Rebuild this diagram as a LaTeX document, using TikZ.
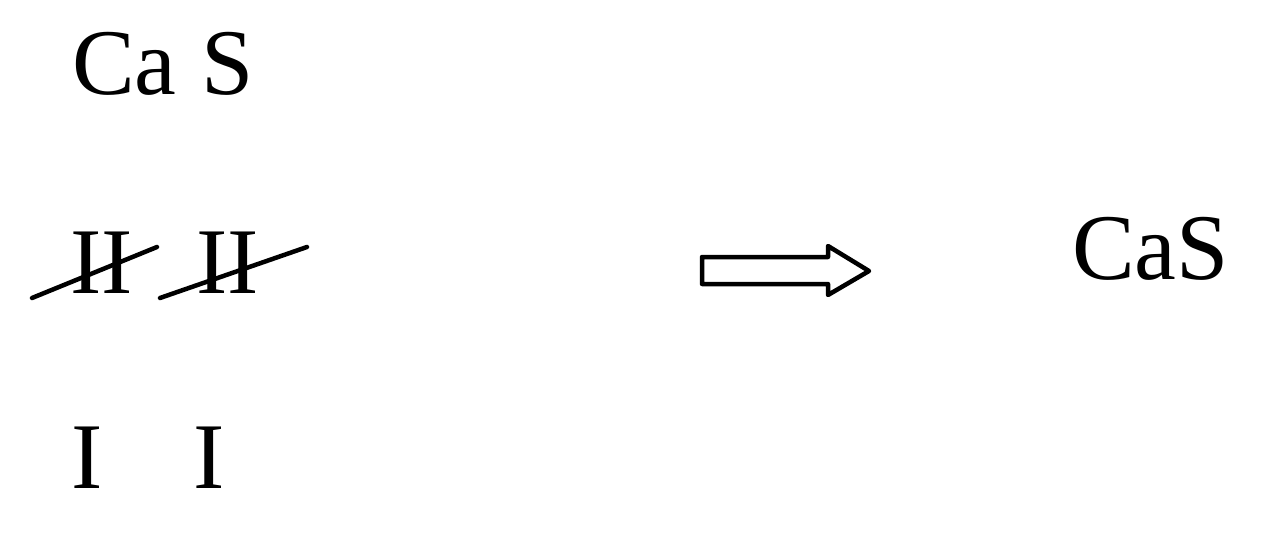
\documentclass[tikz,border=0pt]{standalone}
\usepackage{fontspec}
\setmainfont{Liberation Serif}
\usepackage{tikz}
\newcommand{\elemfont}{\fontsize{94}{112}\selectfont}

\begin{document}
\begin{tikzpicture}[x=1pt,y=-1pt,
  elem/.style={anchor=base west,inner sep=0pt,font=\elemfont},
  strike/.style={line width=4.5pt,line cap=round}]
\useasboundingbox (0,0) rectangle (1280,535);
% symbols
\node[elem] (ca) at (72,95) {Ca};
\node[elem] (s) at (201,95) {S};
% valences
\node[elem] (vca) at (70,293) {II};
\node[elem] (vs) at (196,293) {II};
\draw[strike] (32,298) -- (157,247);
\draw[strike] (160,298) -- (307,247);
\node[elem] (ica) at (71,488) {I};
\node[elem] (is) at (193,488) {I};
% arrow
\draw[line width=4.5pt,line join=round] (702,257) -- (828,257) -- (828,246) -- (869,271)
  -- (828,295) -- (828,284) -- (702,284) -- cycle;
\node[elem] (cas) at (1072,279) {CaS};
\end{tikzpicture}
\end{document}
